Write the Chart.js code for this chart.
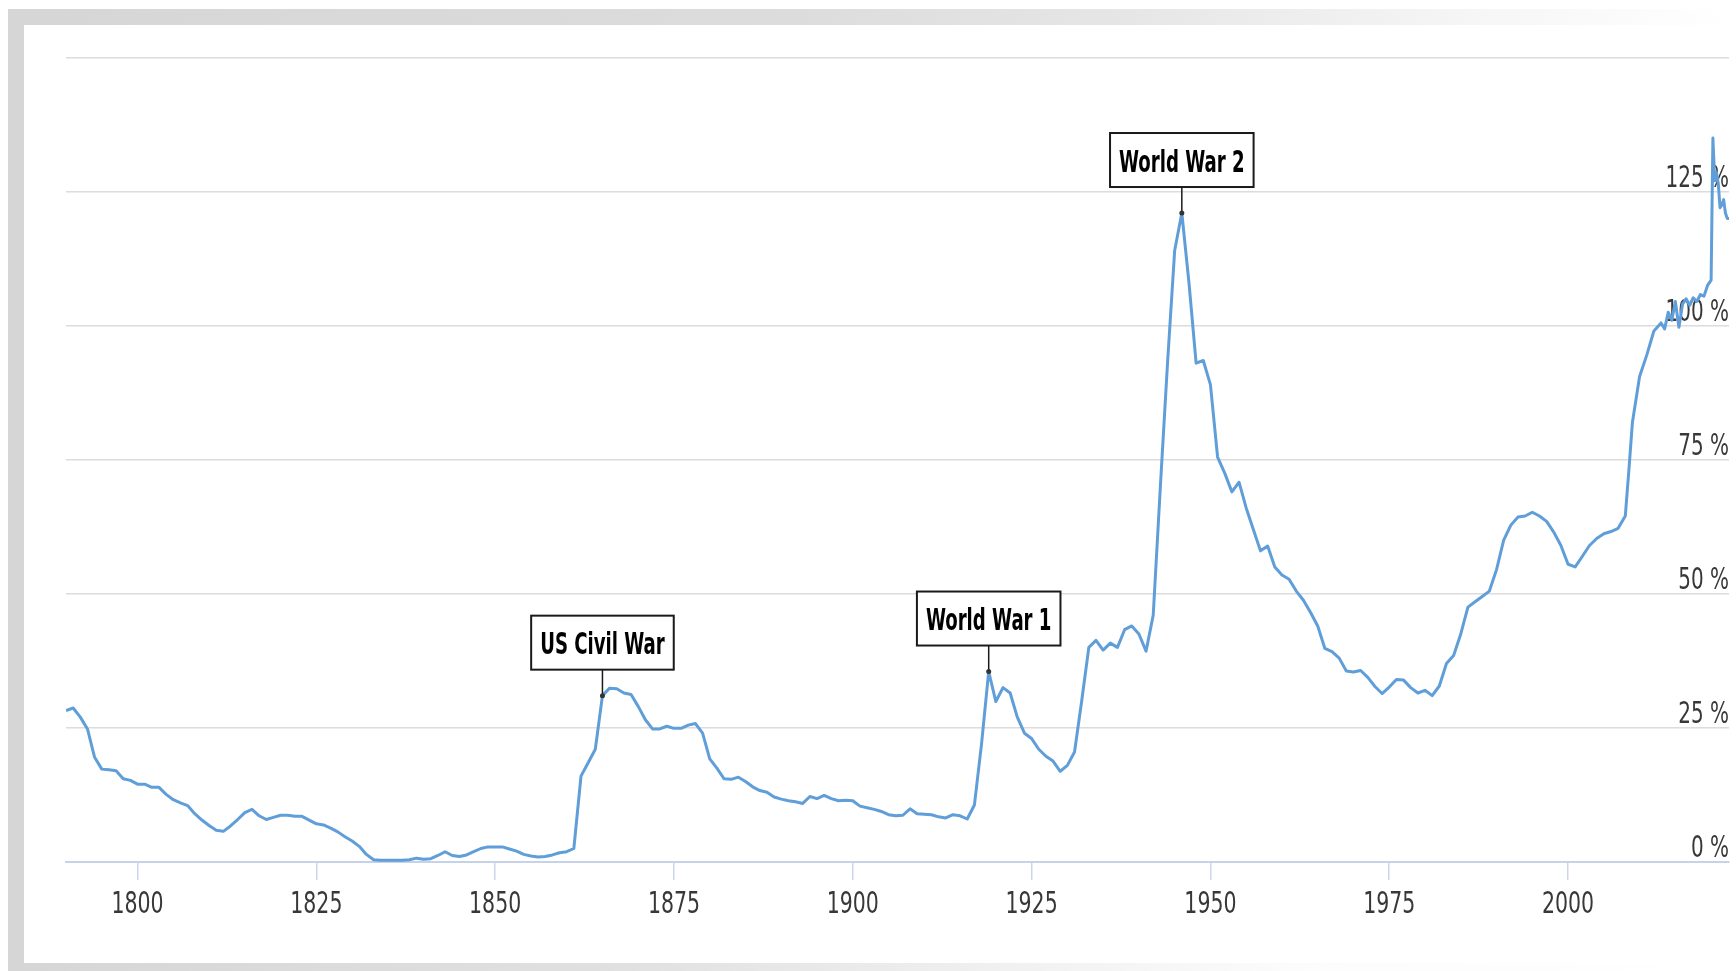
<!DOCTYPE html>
<html>
<head>
<meta charset="utf-8">
<title>Debt to GDP</title>
<script src="https://cdn.jsdelivr.net/npm/chart.js@4.4.1/dist/chart.umd.min.js"></script>
<style>
  html, body { margin: 0; padding: 0; background: #fff; overflow: hidden; }
  #page { position: relative; width: 1736px; height: 971px; }
  .band { position: absolute; }
  #leftBand { left: 8px; top: 9px; width: 16px; height: 962px; background: #d6d6d6; }
  #topBand { left: 8px; top: 9px; width: 1728px; height: 16px;
    background: linear-gradient(to right, #d6d6d6 0%, #dcdcdc 45%, #e6e6e6 65%, #f6f6f6 85%, #ffffff 100%); }
  #bottomBand { left: 8px; top: 963px; width: 1728px; height: 8px;
    background: linear-gradient(to right, #d6d6d6 0%, #e0e0e0 35%, #f2f2f2 60%, #fcfcfc 75%, #ffffff 100%); }
  #wrap { position: absolute; left: 0; top: 0; width: 1736px; height: 971px; }
</style>
</head>
<body>
<div id="page">
  <div class="band" id="leftBand"></div>
  <div class="band" id="topBand"></div>
  <div class="band" id="bottomBand"></div>
  <div id="wrap"><canvas id="grafico"></canvas></div>
</div>
<script>
// anos (fraccionales = trimestres / medio año al final)
const years = [
  1790, 1791, 1792, 1793, 1794, 1795, 1796, 1797, 1798, 1799,
  1800, 1801, 1802, 1803, 1804, 1805, 1806, 1807, 1808, 1809,
  1810, 1811, 1812, 1813, 1814, 1815, 1816, 1817, 1818, 1819,
  1820, 1821, 1822, 1823, 1824, 1825, 1826, 1827, 1828, 1829,
  1830, 1831, 1832, 1833, 1834, 1835, 1836, 1837, 1838, 1839,
  1840, 1841, 1842, 1843, 1844, 1845, 1846, 1847, 1848, 1849,
  1850, 1851, 1852, 1853, 1854, 1855, 1856, 1857, 1858, 1859,
  1860, 1861, 1862, 1863, 1864, 1865, 1866, 1867, 1868, 1869,
  1870, 1871, 1872, 1873, 1874, 1875, 1876, 1877, 1878, 1879,
  1880, 1881, 1882, 1883, 1884, 1885, 1886, 1887, 1888, 1889,
  1890, 1891, 1892, 1893, 1894, 1895, 1896, 1897, 1898, 1899,
  1900, 1901, 1902, 1903, 1904, 1905, 1906, 1907, 1908, 1909,
  1910, 1911, 1912, 1913, 1914, 1915, 1916, 1917, 1918, 1919,
  1920, 1921, 1922, 1923, 1924, 1925, 1926, 1927, 1928, 1929,
  1930, 1931, 1932, 1933, 1934, 1935, 1936, 1937, 1938, 1939,
  1940, 1941, 1942, 1943, 1944, 1945, 1946, 1947, 1948, 1949,
  1950, 1951, 1952, 1953, 1954, 1955, 1956, 1957, 1958, 1959,
  1960, 1961, 1962, 1963, 1964, 1965, 1966, 1967, 1968, 1969,
  1970, 1971, 1972, 1973, 1974, 1975, 1976, 1977, 1978, 1979,
  1980, 1981, 1982, 1983, 1984, 1985, 1986, 1987, 1988, 1989,
  1990, 1991, 1992, 1993, 1994, 1995, 1996, 1997, 1998, 1999,
  2000, 2001, 2002, 2003, 2004, 2005, 2006, 2007, 2008, 2008.5,
  2009, 2010, 2011, 2012, 2013, 2013.5, 2014, 2014.5, 2015, 2015.5,
  2016, 2016.5, 2017, 2017.5, 2018, 2018.5, 2019, 2019.5, 2020, 2020.25,
  2020.5, 2020.75, 2021, 2021.25, 2021.5, 2021.75, 2022, 2022.25, 2022.5
]

// deuda / PIB en %
const debtRatio = [
  28.2, 28.7, 27.0, 24.8, 19.5, 17.3, 17.2, 17.0, 15.5, 15.2,
  14.5, 14.5, 13.9, 13.9, 12.6, 11.6, 11.0, 10.5, 9.0, 7.8,
  6.8, 5.9, 5.7, 6.7, 7.9, 9.2, 9.8, 8.6, 7.9, 8.3,
  8.7, 8.7, 8.5, 8.5, 7.8, 7.1, 6.9, 6.3, 5.6, 4.7,
  3.9, 2.9, 1.4, 0.4, 0.3, 0.3, 0.3, 0.3, 0.4, 0.7,
  0.5, 0.6, 1.2, 1.9, 1.2, 1.0, 1.3, 1.9, 2.5, 2.8,
  2.8, 2.8, 2.4, 2.0, 1.4, 1.1, 0.9, 1.0, 1.3, 1.7,
  1.9, 2.5, 16.0, 18.5, 21.0, 31.0, 32.4, 32.3, 31.5, 31.2,
  29.0, 26.5, 24.8, 24.8, 25.3, 24.9, 24.9, 25.5, 25.8, 24.0,
  19.2, 17.5, 15.5, 15.4, 15.8, 15.0, 14.0, 13.3, 13.0, 12.1,
  11.7, 11.4, 11.2, 10.9, 12.2, 11.8, 12.4, 11.8, 11.4, 11.5,
  11.4, 10.4, 10.1, 9.8, 9.4, 8.8, 8.6, 8.7, 9.9, 9.0,
  8.9, 8.8, 8.4, 8.2, 8.8, 8.6, 8.0, 10.6, 22.0, 35.5,
  29.9, 32.5, 31.5, 27.0, 24.0, 23.0, 21.0, 19.7, 18.8, 16.9,
  18.0, 20.5, 30.0, 40.0, 41.3, 39.5, 40.8, 40.0, 43.3, 44.0,
  42.5, 39.3, 46.0, 70.0, 93.0, 114.0, 121.0, 108.0, 93.0, 93.5,
  89.0, 75.5, 72.5, 69.0, 70.8, 66.0, 62.0, 58.0, 58.9, 55.0,
  53.5, 52.7, 50.5, 48.8, 46.5, 44.0, 39.8, 39.2, 38.0, 35.6,
  35.4, 35.7, 34.4, 32.7, 31.4, 32.6, 34.0, 33.9, 32.5, 31.5,
  32.0, 31.0, 32.8, 37.0, 38.5, 42.5, 47.5, 48.5, 49.5, 50.5,
  54.5, 60.0, 62.8, 64.3, 64.5, 65.2, 64.5, 63.5, 61.5, 59.0,
  55.5, 55.0, 57.0, 59.0, 60.3, 61.2, 61.6, 62.2, 64.5, 73.0,
  82.0, 90.5, 94.5, 99.0, 100.5, 99.4, 102.5, 101.0, 104.5, 99.7,
  104.0, 105.0, 103.8, 105.2, 104.5, 105.8, 105.5, 107.5, 108.5, 135.0,
  127.0, 128.5, 126.5, 122.0, 122.5, 123.5, 121.0, 120.0, 120.0
]

const yearTicks = [1800, 1825, 1850, 1875, 1900, 1925, 1950, 1975, 2000]
const pctTicks = [0, 25, 50, 75, 100, 125]

const annoYears = [1865, 1919, 1946]
const annoLabels = ['US Civil War', 'World War 1', 'World War 2']

const fuente = "'DejaVu Sans Condensed', 'DejaVu Sans', sans-serif"

Chart.defaults.font.family = fuente
Chart.defaults.font.size = 28
Chart.defaults.color = '#3a3a3a'

// textos de ejes: fuente angosta (se comprime en horizontal)
const etiquetasEjes = {
  id: 'etiquetasEjes',
  beforeDatasetsDraw(chart) {
    const ctx = chart.ctx
    const xs = chart.scales.x
    const ys = chart.scales.y
    const area = chart.chartArea
    ctx.save()
    ctx.font = '30px ' + fuente
    ctx.fillStyle = '#383838'
    ctx.textBaseline = 'alphabetic'
    yearTicks.forEach(v => {
      ctx.save()
      ctx.translate(xs.getPixelForValue(v), area.bottom + 51)
      ctx.scale(0.76, 1)
      ctx.textAlign = 'center'
      ctx.fillText(String(v), 0, 0)
      ctx.restore()
    })
    pctTicks.forEach(v => {
      ctx.save()
      ctx.translate(area.right, ys.getPixelForValue(v) - 5)
      ctx.scale(0.74, 1)
      ctx.textAlign = 'right'
      ctx.fillText(v + ' %', 0, 0)
      ctx.restore()
    })
    ctx.restore()
  }
}

// cajas de texto sobre los picos
const etiquetasEventos = {
  id: 'etiquetasEventos',
  afterDatasetsDraw(chart) {
    const ctx = chart.ctx
    const xs = chart.scales.x
    const ys = chart.scales.y
    ctx.save()
    ctx.font = 'bold 31px ' + fuente
    annoYears.forEach((yr, i) => {
      const valor = debtRatio[years.indexOf(yr)]
      const px = xs.getPixelForValue(yr)
      const py = ys.getPixelForValue(valor)
      const texto = annoLabels[i]
      const sx = 0.65
      const w = ctx.measureText(texto).width * sx + 18
      const h = 54
      const base = py - 26

      ctx.strokeStyle = '#1a1a1a'
      ctx.lineWidth = 1.5
      ctx.beginPath()
      ctx.moveTo(px, base)
      ctx.lineTo(px, py)
      ctx.stroke()
      ctx.beginPath()
      ctx.arc(px, py, 2.5, 0, Math.PI * 2)
      ctx.fillStyle = '#333'
      ctx.fill()

      ctx.fillStyle = '#fff'
      ctx.fillRect(px - w / 2, base - h, w, h)
      ctx.lineWidth = 2
      ctx.strokeStyle = '#1a1a1a'
      ctx.strokeRect(px - w / 2, base - h, w, h)

      ctx.save()
      ctx.translate(px, base - h / 2 + 11.5)
      ctx.scale(sx, 1)
      ctx.fillStyle = '#000'
      ctx.textAlign = 'center'
      ctx.textBaseline = 'alphabetic'
      ctx.fillText(texto, 0, 0)
      ctx.restore()
    })
    ctx.restore()
  }
}

const puntos = years.map((yr, i) => ({ x: yr, y: debtRatio[i] }))

new Chart(document.getElementById('grafico'), {
  type: 'line',
  data: {
    datasets: [{
      label: 'Debt to GDP',
      data: puntos,
      borderColor: '#5f9ed8',
      borderWidth: 3,
      pointRadius: 0,
      tension: 0,
      borderJoinStyle: 'round',
      fill: false
    }]
  },
  options: {
    responsive: true,
    maintainAspectRatio: false,
    animation: false,
    layout: { padding: { left: 66, right: 7, top: 57.5, bottom: 51.5 } },
    plugins: { legend: { display: false }, tooltip: { enabled: false } },
    scales: {
      x: {
        type: 'linear',
        min: 1790,
        max: 2022.5,
        afterBuildTicks: (scale) => { scale.ticks = yearTicks.map(v => ({ value: v })) },
        ticks: { padding: 3, maxRotation: 0, autoSkip: false, color: 'rgba(0,0,0,0)', callback: (v) => String(v) },
        grid: { drawOnChartArea: false, drawTicks: true, tickLength: 18, color: '#ccd6eb', lineWidth: 1.5 },
        border: { display: true, color: '#c6d2ea', width: 2 }
      },
      y: {
        position: 'right',
        min: 0,
        max: 150,
        afterBuildTicks: (scale) => { scale.ticks = pctTicks.concat([150]).map(v => ({ value: v })) },
        ticks: { display: false },
        grid: {
          drawTicks: false,
          lineWidth: 1.6,
          color: (c) => (c.tick && c.tick.value === 0 ? 'rgba(0,0,0,0)' : '#dcdcdc')
        },
        border: { display: false }
      }
    }
  },
  plugins: [etiquetasEjes, etiquetasEventos]
})
</script>
</body>
</html>
